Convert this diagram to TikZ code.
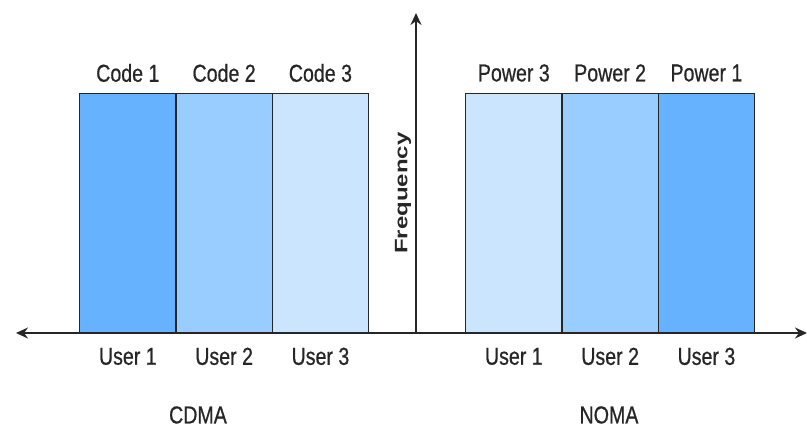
\documentclass[tikz,border=0pt]{standalone}
\usepackage{fontspec}
\setmainfont{Liberation Sans}
\newfontfamily\labfont[FakeStretch=0.8,FakeBold=0.6]{Liberation Sans}
\usetikzlibrary{arrows.meta}
\definecolor{bdark}{HTML}{66B2FF}
\definecolor{bmid}{HTML}{99CCFF}
\definecolor{blight}{HTML}{CCE5FF}
\definecolor{txt}{HTML}{262626}
\definecolor{edge}{HTML}{262626}
\begin{document}
\begin{tikzpicture}[x=1pt,y=-1pt,
  bar/.style={draw=edge,line width=1.4pt,minimum width=96.3pt,minimum height=240pt,inner sep=0pt,anchor=north west},
  lab/.style={font=\labfont\fontsize{24.5}{24.5}\selectfont,text=txt,inner sep=0pt},
  axis/.style={draw=black!85,line width=1.4pt,-{Stealth[length=12pt,width=11pt]}}]
\useasboundingbox (0,0) rectangle (807,427);
% CDMA bars
\node[bar,fill=bdark]  (c1) at (79,93) {};
\node[bar,fill=bmid]   (c2) at (175.3,93) {};
\node[bar,fill=blight] (c3) at (271.6,93) {};
% NOMA bars
\node[bar,fill=blight] (n3) at (465,93) {};
\node[bar,fill=bmid]   (n2) at (561.3,93) {};
\node[bar,fill=bdark]  (n1) at (657.6,93) {};
% axes
\coordinate (o) at (416,333);
\coordinate (lt) at (16,333);
\coordinate (rt) at (807,333);
\coordinate (up) at (416,13);
\draw[axis] (o) -- (lt);
\draw[axis] (o) -- (rt);
\draw[axis] (o) -- (up);
% labels
\node[lab] (lc1) at ([yshift=20pt]c1.north) {Code 1};
\node[lab] (lc2) at ([yshift=20pt]c2.north) {Code 2};
\node[lab] (lc3) at ([yshift=20pt]c3.north) {Code 3};
\node[lab] (ln3) at ([yshift=20pt]n3.north) {Power 3};
\node[lab] (ln2) at ([yshift=20pt]n2.north) {Power 2};
\node[lab] (ln1) at ([yshift=20pt]n1.north) {Power 1};
\node[lab] (uc1) at ([yshift=-22pt]c1.south) {User 1};
\node[lab] (uc2) at ([yshift=-22pt]c2.south) {User 2};
\node[lab] (uc3) at ([yshift=-22pt]c3.south) {User 3};
\node[lab] (un3) at ([yshift=-22pt]n3.south) {User 1};
\node[lab] (un2) at ([yshift=-22pt]n2.south) {User 2};
\node[lab] (un1) at ([yshift=-22pt]n1.south) {User 3};
\node[lab] (cdma) at (198,415) {CDMA};
\node[lab] (noma) at (609,415) {NOMA};
\node[inner sep=0pt,text=txt,rotate=90] (freq) at (403,193)
  {\scalebox{1}[0.75]{\fontsize{24}{24}\selectfont\bfseries Frequency}};
\end{tikzpicture}
\end{document}
